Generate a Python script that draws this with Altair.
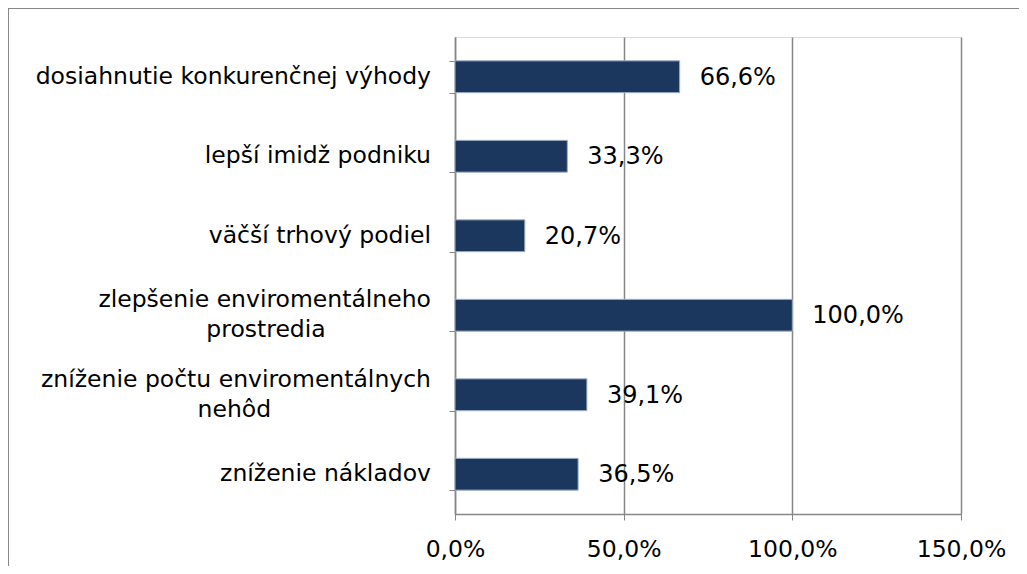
import altair as alt
import pandas as pd

categories = [
    "dosiahnutie konkurenčnej výhody",
    "lepší imidž podniku",
    "väčší trhový podiel",
    "zlepšenie enviromentálneho prostredia",
    "zníženie počtu enviromentálnych nehôd",
    "zníženie nákladov",
]
label_line1 = [
    "dosiahnutie konkurenčnej výhody",
    "lepší imidž podniku",
    "väčší trhový podiel",
    "zlepšenie enviromentálneho",
    "zníženie počtu enviromentálnych",
    "zníženie nákladov",
]
label_line2 = ["", "", "", "prostredia", "nehôd", ""]
values = [0.666, 0.333, 0.207, 1.000, 0.391, 0.365]
x_ticks = [0, 0.5, 1.0, 1.5]

df = pd.DataFrame({"cat": categories, "l1": label_line1, "l2": label_line2, "val": values})
df["lbl"] = [f"{v*100:.1f}%".replace(".", ",") for v in values]

FONT = "DejaVu Sans"
GRAY = "#868686"
YFS = 23.5

y_scale = alt.Scale(domain=categories, paddingInner=0.6, paddingOuter=0.3)
y_enc = alt.Y(
    "cat:N",
    sort=categories,
    scale=y_scale,
    axis=alt.Axis(
        title=None,
        labels=False,
        tickBand="extent",
        tickSize=6,
        tickColor=GRAY,
        domainColor=GRAY,
        domainWidth=1.5,
        grid=False,
    ),
)

x_scale = alt.Scale(domain=[0, 1.5], nice=False)

bars = alt.Chart(df).mark_bar(color="#1b375e", stroke="#9fb0c6", strokeWidth=1).encode(
    x=alt.X(
        "val:Q",
        scale=x_scale,
        axis=alt.Axis(
            title=None,
            values=x_ticks,
            labelExpr="replace(format(datum.value, '.1%'), '.', ',')",
            labelFontSize=23.5,
            labelFont=FONT,
            labelColor="#000000",
            labelPadding=17,
            labelFlush=False,
            labelOverlap=False,
            tickSize=6,
            tickColor=GRAY,
            domainColor=GRAY,
            domainWidth=1.5,
            grid=True,
            gridColor=GRAY,
            gridWidth=1.5,
        ),
    ),
    y=y_enc,
)

text = alt.Chart(df).mark_text(
    align="left", baseline="middle", dx=20, dy=1, fontSize=24, font=FONT, color="#000000"
).encode(
    x=alt.X("val:Q", scale=x_scale),
    y=alt.Y("cat:N", sort=categories, scale=y_scale),
    text="lbl:N",
)

ylab_base = alt.Chart(df).transform_calculate(
    lx="-24", cx="-24 - length(datum.l1) * %f" % (YFS * 0.27)
)
ylab_single = ylab_base.transform_filter("datum.l2 == ''").mark_text(
    align="right", baseline="middle", fontSize=YFS, font=FONT, color="#000000"
).encode(x=alt.X("lx:Q", scale=None), y=alt.Y("cat:N", sort=categories, scale=y_scale), text="l1:N")
ylab_first = ylab_base.transform_filter("datum.l2 != ''").mark_text(
    align="right", baseline="middle", dy=-15, fontSize=YFS, font=FONT, color="#000000"
).encode(x=alt.X("lx:Q", scale=None), y=alt.Y("cat:N", sort=categories, scale=y_scale), text="l1:N")
ylab_second = ylab_base.transform_filter("datum.l2 != ''").mark_text(
    align="center", baseline="middle", dy=15, fontSize=YFS, font=FONT, color="#000000"
).encode(x=alt.X("cx:Q", scale=None), y=alt.Y("cat:N", sort=categories, scale=y_scale), text="l2:N")

border_top = alt.Chart(df).mark_rule(color=GRAY, strokeWidth=1.5).encode(
    x=alt.value(-447), x2=alt.value(700), y=alt.value(-29)
)
border_left = alt.Chart(df).mark_rule(color=GRAY, strokeWidth=1.5).encode(
    x=alt.value(-447), y=alt.value(-29), y2=alt.value(700)
)

chart = (
    alt.layer(bars, text, ylab_single, ylab_first, ylab_second, border_top, border_left)
    .properties(
        width=506,
        height=477,
        autosize=alt.AutoSizeParams(type="none"),
        padding={"left": 447, "top": 29, "right": 58, "bottom": 52},
    )
    .configure_view(stroke=None)
    .configure(background="#ffffff")
)

chart.save("out.html", embed_options={"renderer": "svg", "actions": False})
